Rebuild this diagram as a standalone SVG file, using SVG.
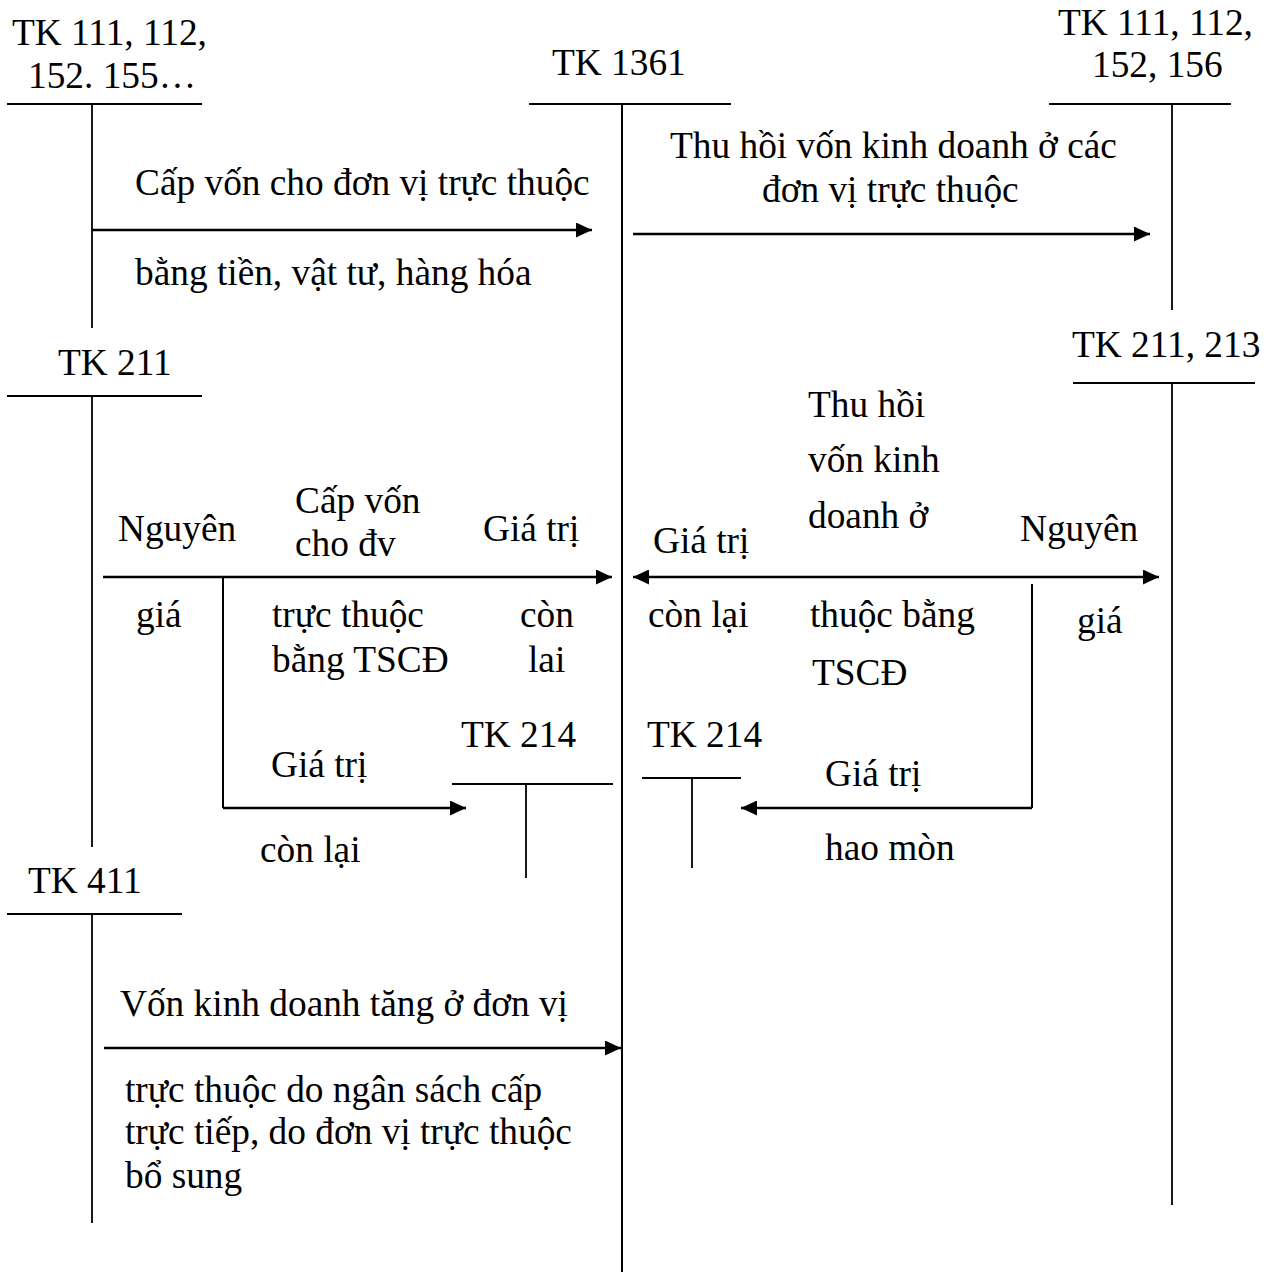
<svg xmlns="http://www.w3.org/2000/svg" width="1271" height="1272" viewBox="0 0 1271 1272">
<style>
text{font-family:"Liberation Serif","Times New Roman",serif;font-size:37.33px;fill:#000}
.t{stroke:#000;stroke-width:1.8;fill:none}
.a{stroke:#000;stroke-width:2.6;fill:none}
.b{stroke:#000;stroke-width:2;fill:none}
</style>
<defs>
<marker id="ah" markerWidth="16" markerHeight="15" refX="16" refY="7.5" orient="auto-start-reverse" markerUnits="userSpaceOnUse"><path d="M0,0 L16,7.5 L0,15 z" fill="#000"/></marker>
<clipPath id="cl"><rect x="280" y="480" width="200" height="76"/></clipPath>
</defs>
<rect width="1271" height="1272" fill="#fff"/>

<g id="tk111-left">
<text x="12" y="45">TK 111, 112,</text>
<text x="28" y="88">152. 155…</text>
<line class="t" x1="7" y1="104" x2="202" y2="104"/>
<line class="t" x1="92" y1="104" x2="92" y2="328"/>
</g>

<g id="tk1361">
<text x="552" y="75">TK 1361</text>
<line class="t" x1="529" y1="104" x2="731" y2="104"/>
<line class="b" x1="622" y1="104" x2="622" y2="1272"/>
</g>

<g id="tk111-right">
<text x="1058" y="35">TK 111, 112,</text>
<text x="1092" y="77">152, 156</text>
<line class="t" x1="1049" y1="104" x2="1231" y2="104"/>
<line class="t" x1="1172" y1="104" x2="1172" y2="310"/>
</g>

<g id="tk211">
<text x="58" y="375">TK 211</text>
<line class="t" x1="7" y1="396" x2="202" y2="396"/>
<line class="t" x1="92" y1="396" x2="92" y2="847"/>
</g>

<g id="tk211-213">
<text x="1072" y="357">TK 211, 213</text>
<line class="t" x1="1073" y1="383" x2="1255" y2="383"/>
<line class="t" x1="1172" y1="383" x2="1172" y2="1205"/>
</g>

<g id="tk214-left">
<text x="461" y="747">TK 214</text>
<line class="t" x1="452" y1="784" x2="613" y2="784"/>
<line class="t" x1="526" y1="784" x2="526" y2="878"/>
</g>

<g id="tk214-right">
<text x="647" y="747">TK 214</text>
<line class="t" x1="642" y1="778" x2="741" y2="778"/>
<line class="t" x1="692" y1="778" x2="692" y2="868"/>
</g>

<g id="tk411">
<text x="28" y="893">TK 411</text>
<line class="t" x1="7" y1="914" x2="182" y2="914"/>
<line class="t" x1="92" y1="914" x2="92" y2="1223"/>
</g>

<g id="connectors">
<line class="a" x1="92" y1="230" x2="592" y2="230" marker-end="url(#ah)"/>
<line class="a" x1="633" y1="234" x2="1150" y2="234" marker-end="url(#ah)"/>
<line class="a" x1="103" y1="577" x2="612" y2="577" marker-end="url(#ah)"/>
<line class="b" x1="223" y1="577" x2="223" y2="808"/>
<line class="a" x1="223" y1="808" x2="466" y2="808" marker-end="url(#ah)"/>
<line class="a" x1="633" y1="577" x2="1159" y2="577" marker-start="url(#ah)" marker-end="url(#ah)"/>
<line class="b" x1="1032" y1="584" x2="1032" y2="808"/>
<line class="a" x1="1032" y1="808" x2="741" y2="808" marker-end="url(#ah)"/>
<line class="a" x1="104" y1="1048" x2="621" y2="1048" marker-end="url(#ah)"/>
</g>

<g id="labels">
<text x="135" y="195">Cấp vốn cho đơn vị trực thuộc</text>
<text x="135" y="285">bằng tiền, vật tư, hàng hóa</text>
<text x="670" y="158">Thu hồi vốn kinh doanh ở các</text>
<text x="762" y="202">đơn vị trực thuộc</text>

<text x="118" y="541">Nguyên</text>
<text x="295" y="513">Cấp vốn</text>
<text x="295" y="556" clip-path="url(#cl)">cho đv</text>
<text x="483" y="541">Giá trị</text>
<text x="136" y="627">giá</text>
<text x="272" y="627">trực thuộc</text>
<text x="272" y="672">bằng TSCĐ</text>
<text x="520" y="627">còn</text>
<text x="528" y="672">lai</text>
<text x="271" y="777">Giá trị</text>
<text x="260" y="862">còn lại</text>

<text x="808" y="417">Thu hồi</text>
<text x="808" y="472">vốn kinh</text>
<text x="808" y="528">doanh ở</text>
<text x="653" y="553">Giá trị</text>
<text x="1020" y="541">Nguyên</text>
<text x="648" y="627">còn lại</text>
<text x="810" y="627">thuộc bằng</text>
<text x="812" y="685">TSCĐ</text>
<text x="1077" y="633">giá</text>
<text x="825" y="786">Giá trị</text>
<text x="825" y="860">hao mòn</text>

<text x="120" y="1016">Vốn kinh doanh tăng ở đơn vị</text>
<text x="125" y="1102">trực thuộc do ngân sách cấp</text>
<text x="125" y="1144">trực tiếp, do đơn vị trực thuộc</text>
<text x="125" y="1188">bổ sung</text>
</g>
</svg>
